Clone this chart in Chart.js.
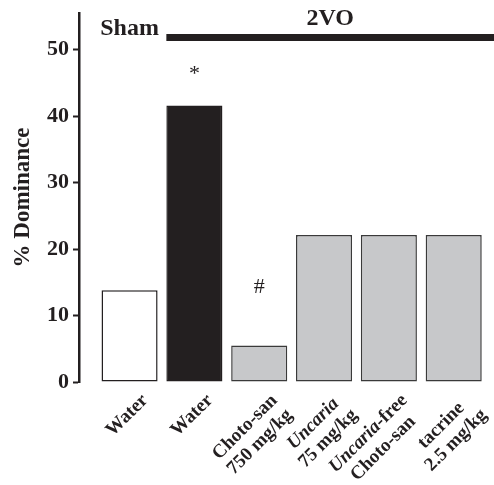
<!DOCTYPE html>
<html>
<head>
<meta charset="utf-8">
<script src="https://cdn.jsdelivr.net/npm/chart.js@4.4.1/dist/chart.umd.min.js"></script>
<style>
  html, body { margin: 0; padding: 0; background: #fff; }
  #wrap { width: 494px; height: 485px; }
</style>
</head>
<body>
<div id="wrap"><canvas id="chart"></canvas></div>
<script>
const groups = [
  ['Water'],
  ['Water'],
  ['Choto-san', '750 mg/kg'],
  ['Uncaria', '75 mg/kg'],
  ['Uncaria-free', 'Choto-san'],
  ['tacrine', '2.5 mg/kg']
];
const italicWords = ['Uncaria'];
const dominance = [13.8, 41.6, 5.5, 22.1, 22.1, 22.1];
const marks = ['', '*', '#', '', '', ''];
const yTicks = [0, 10, 20, 30, 40, 50];
const shamLabel = 'Sham';
const vo2Label = '2VO';
const yTitle = '% Dominance';

const SERIF = '"Liberation Serif", "Times New Roman", serif';
const ink = '#231f20';
const gray = '#c7c8ca';
const labelSize = 19;

function splitItalic(text) {
  const re = new RegExp('(' + italicWords.join('|') + ')');
  return text.split(re).filter(s => s).map(s => ({ s, it: italicWords.includes(s) }));
}

function lineWidth(ctx, text) {
  let w = 0;
  splitItalic(text).forEach(p => {
    ctx.font = (p.it ? 'italic bold ' : 'bold ') + labelSize + 'px ' + SERIF;
    w += ctx.measureText(p.s).width;
  });
  return w;
}

function drawLine(ctx, text, x, y) {
  splitItalic(text).forEach(p => {
    ctx.font = (p.it ? 'italic bold ' : 'bold ') + labelSize + 'px ' + SERIF;
    ctx.fillText(p.s, x, y);
    x += ctx.measureText(p.s).width;
  });
}

const decor = {
  id: 'decor',
  afterDraw(chart) {
    const ctx = chart.ctx;
    const bars = chart.getDatasetMeta(0).data;
    const area = chart.chartArea;
    ctx.save();
    ctx.fillStyle = ink;

    // group header
    ctx.font = 'bold 24px ' + SERIF;
    ctx.textAlign = 'center';
    ctx.textBaseline = 'alphabetic';
    ctx.fillText(shamLabel, bars[0].x, 35);
    const lineLeft = bars[1].x - bars[1].width / 2;
    ctx.fillRect(lineLeft, 34, chart.width - lineLeft, 7);
    ctx.fillText(vo2Label, (lineLeft + chart.width) / 2, 25);

    // significance marks
    ctx.font = '22px ' + SERIF;
    const lift = { '*': 25, '#': 52 };
    marks.forEach((m, i) => {
      if (!m) return;
      ctx.fillText(m, bars[i].x, bars[i].y - lift[m]);
    });

    // rotated category labels
    ctx.textAlign = 'left';
    groups.forEach((lines, i) => {
      ctx.save();
      ctx.translate(bars[i].x + 19, area.bottom + 19);
      ctx.rotate(-Math.PI / 4);
      const widths = lines.map(l => lineWidth(ctx, l));
      const maxW = Math.max(...widths);
      lines.forEach((l, j) => drawLine(ctx, l, -maxW / 2 - widths[j] / 2, j * 21));
      ctx.restore();
    });
    ctx.restore();
  }
};

new Chart(document.getElementById('chart'), {
  type: 'bar',
  data: {
    datasets: [{
      data: dominance.map((v, i) => ({ x: i, y: v })),
      backgroundColor: ['#ffffff', ink, gray, gray, gray, gray],
      borderColor: [ink, ink, '#3a3a3a', '#3a3a3a', '#3a3a3a', '#3a3a3a'],
      borderWidth: 1.5,
      borderSkipped: false,
      barPercentage: 1,
      categoryPercentage: 0.865
    }]
  },
  options: {
    responsive: true,
    maintainAspectRatio: false,
    animation: false,
    layout: { padding: { top: 13, right: 4, bottom: 103, left: 0 } },
    plugins: {
      legend: { display: false },
      tooltip: { enabled: false }
    },
    scales: {
      x: {
        type: 'linear',
        min: -0.78,
        max: 5.56,
        offset: false,
        display: false
      },
      y: {
        min: 0,
        max: 55.5,
        afterFit(scale) {
          scale.width = 79;
          scale.paddingTop = 0;
          scale.paddingBottom = 0;
        },
        afterBuildTicks(scale) { scale.ticks = yTicks.map(v => ({ value: v })); },
        ticks: {
          includeBounds: false,
          stepSize: 10,
          padding: 4,
          color: ink,
          font: { family: SERIF, size: 22, weight: 'bold' }
        },
        grid: {
          display: true,
          drawOnChartArea: false,
          tickLength: 6,
          tickWidth: 2,
          tickColor: ink
        },
        border: { display: true, color: ink, width: 2.5 },
        title: {
          display: true,
          text: yTitle,
          color: ink,
          padding: { top: 9, bottom: 0 },
          font: { family: SERIF, size: 23, weight: 'bold' }
        }
      }
    }
  },
  plugins: [decor]
});
</script>
</body>
</html>
